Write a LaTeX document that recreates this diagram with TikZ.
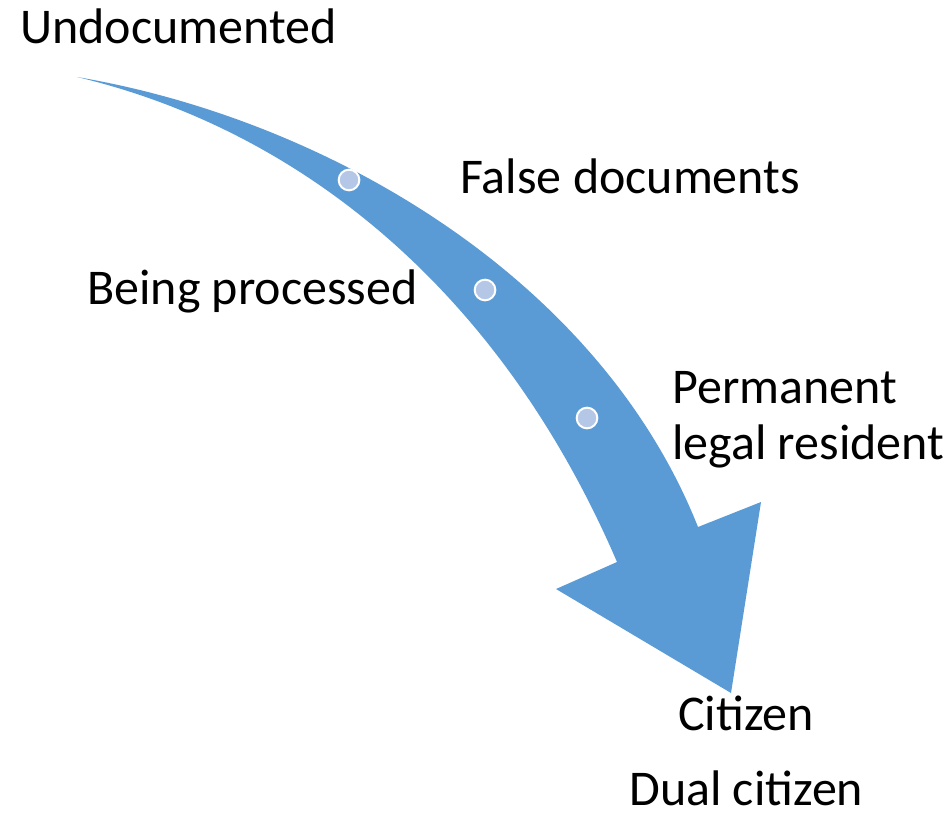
\documentclass[tikz,border=0pt]{standalone}
\usepackage{fontspec}
\setmainfont{Carlito}
\usetikzlibrary{positioning}
\definecolor{flowblue}{HTML}{5B9BD5}
\definecolor{dotblue}{HTML}{B4C7E7}

\begin{document}
\begin{tikzpicture}[x=0.75pt,y=-0.75pt]
    \tikzstyle{stage}=[anchor=base west,inner sep=0pt,font=\fontsize{37.5}{41.5}\selectfont,align=left]
    \tikzstyle{mark dot}=[circle,fill=dotblue,draw=white,line width=1.5pt,minimum size=15.5pt,inner sep=0pt]

    \useasboundingbox (0,0) rectangle (952,813);

    % the curved arrow
    \fill[flowblue] (77,77) .. controls (330,120) and (600,280) .. (698,527)
        -- (761,502) -- (731,693) -- (556,589) -- (617,562)
        .. controls (500,290) and (300,130) .. (77,77) -- cycle;

    \node[mark dot] (dota) at (349,180) {};
    \node[mark dot] (dotb) at (485,290) {};
    \node[mark dot] (dotc) at (587,418) {};

    \node[stage] (undoc)   at (20,44)  {Undocumented};
    \node[stage] (false)   at (460,193) {False documents};
    \node[stage] (process) at (87,304) {Being processed};
    \node[stage] (perm)    at (672,459) {Permanent\\legal resident};
    \node[stage] (citizen) at (678,730) {Citizen};
    \node[stage] (dual)    at (629,805) {Dual citizen};
\end{tikzpicture}
\end{document}
